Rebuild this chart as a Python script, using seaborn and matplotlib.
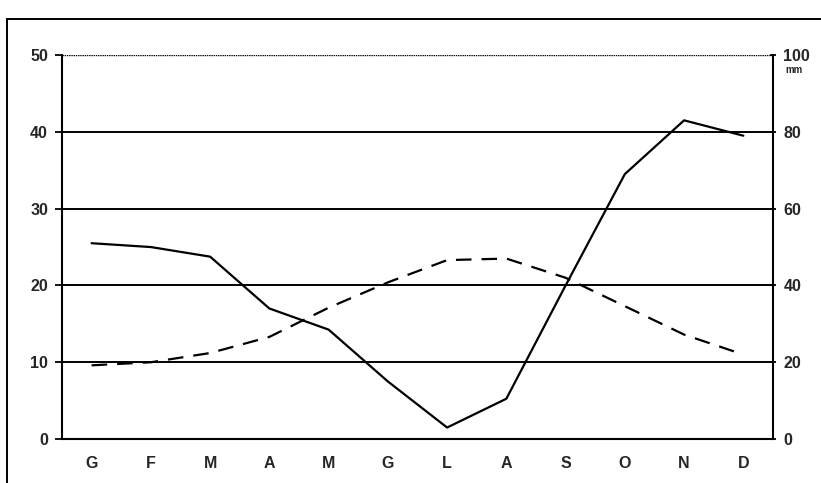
import numpy as np
import pandas as pd
import matplotlib
matplotlib.use('Agg')
import matplotlib.pyplot as plt
from matplotlib.patches import Rectangle
import seaborn as sns

# Monthly climate data (Italian month initials)
months = ["G", "F", "M", "A", "M", "G", "L", "A", "S", "O", "N", "D"]
temperature = [9.6, 10.0, 11.2, 13.3, 17.1, 20.4, 23.3, 23.5, 21.0, 17.3, 13.6, 11.0]   # °C, left axis
precipitation = [51, 50, 47.5, 34, 28.5, 15, 3, 10.5, 40, 69, 83, 79]                  # mm, right axis
left_ticks = [0, 10, 20, 30, 40, 50]
right_ticks = [0, 20, 40, 60, 80, 100]

sns.set_theme(style="white")
plt.rcParams['font.family'] = ['Liberation Sans', 'DejaVu Sans']

df = pd.DataFrame({"pos": np.arange(len(months)), "temp": temperature, "rain": precipitation})

fig = plt.figure(figsize=(8.21, 4.83), dpi=100)
ax = fig.add_axes([0.0755, 0.091, 0.866, 0.795])
ax2 = ax.twinx()

# horizontal gridlines
for v in left_ticks[1:-1]:
    ax.axhline(v, color="black", linewidth=1.4, zorder=1)
ax.axhline(50, color="black", linewidth=1.0, linestyle=(0, (1, 0.6)), zorder=1)

sns.lineplot(data=df, x="pos", y="temp", ax=ax, color="black", linewidth=1.6,
             dashes=False, zorder=3)
ax.lines[-1].set_dashes([7, 4.5])
sns.lineplot(data=df, x="pos", y="rain", ax=ax2, color="black", linewidth=1.6, zorder=3)

ax.set_xlim(-0.5, len(months) - 0.5)
ax.set_ylim(0, 50)
ax2.set_ylim(0, 100)

lab_font = dict(fontsize=11.5, fontweight="bold")
ax.set_xticks(df["pos"])
ax.set_xticklabels(months, **lab_font)
ax.set_xticks(np.arange(-0.5, len(months)), minor=True)
ax.tick_params(axis="x", which="major", length=0, pad=12)
ax.tick_params(axis="x", which="minor", length=4, width=1.3, direction="out", color="black")
ax.set_yticks(left_ticks)
ax.set_yticklabels([str(t) for t in left_ticks], **lab_font)
ax.tick_params(axis="y", length=5, width=1.3, direction="out", color="black", left=True, pad=5)

ax2.set_yticks(right_ticks)
ax2.set_yticklabels([str(t) for t in right_ticks], **lab_font)
ax2.tick_params(axis="y", length=5, width=1.3, direction="inout", color="black", right=True, pad=5)
ax2.text(1.018, 0.975, "mm", transform=ax.transAxes, fontsize=7, fontweight="bold",
         ha="left", va="top")

for a in (ax, ax2):
    a.set_xlabel("")
    a.set_ylabel("")
    a.spines["top"].set_visible(False)
    for s in ("left", "right", "bottom"):
        a.spines[s].set_color("black")
        a.spines[s].set_linewidth(1.5)
ax.spines["right"].set_visible(False)
ax2.spines["left"].set_visible(False)
ax2.spines["bottom"].set_visible(False)

# outer frame of the scanned figure
fig.patches.append(Rectangle((0.009, -0.1), 1.2, 1.06, transform=fig.transFigure,
                             fill=False, edgecolor="black", linewidth=1.4))

fig.savefig("out.png", dpi=100)
plt.close(fig)
